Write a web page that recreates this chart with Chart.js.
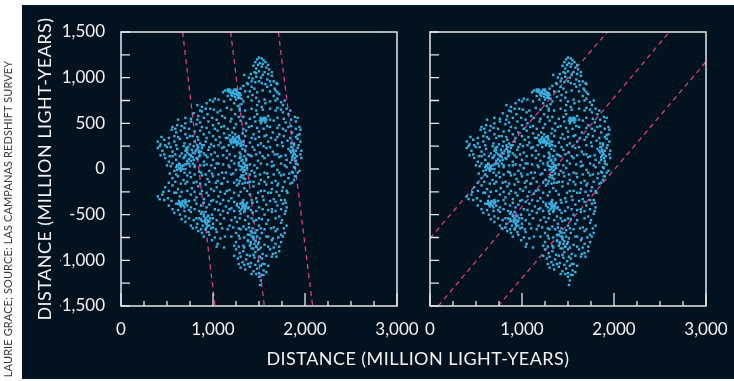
<!DOCTYPE html>
<html>
<head>
<meta charset="utf-8">
<script src="https://cdn.jsdelivr.net/npm/chart.js@4"></script>
<style>
  body { margin: 0; width: 734px; height: 381px; background: #fff; overflow: hidden; position: relative; font-family: Lato, sans-serif; }
  #fond { position: absolute; left: 22px; top: 5px; width: 712px; height: 374px; background: #03121f; }
  canvas { position: absolute; left: 0; top: 0; }
  .titre { position: absolute; color: #f2f2f2; font-size: 18px; line-height: 20px; letter-spacing: 0.45px; text-align: center; white-space: nowrap; }
  #titreX { left: 218px; top: 348px; width: 400px; }
  #titreY { left: -116px; top: 159px; width: 320px; transform: rotate(-90deg); }
  #credit { position: absolute; left: -162px; top: 213px; width: 340px; font-size: 11px; line-height: 12px; letter-spacing: 0.1px; color: #3a3a3a; text-align: center; transform: rotate(-90deg); white-space: nowrap; }
</style>
</head>
<body>
<div id="fond"></div>
<canvas id="gauche" width="734" height="381"></canvas>
<canvas id="droite" width="734" height="381"></canvas>
<div class="titre" id="titreX">DISTANCE (MILLION LIGHT-YEARS)</div>
<div class="titre" id="titreY">DISTANCE (MILLION LIGHT-YEARS)</div>
<div id="credit">LAURIE GRACE; SOURCE: LAS CAMPANAS REDSHIFT SURVEY</div>
<script>
// eixos
const xTicks = [0, 1000, 2000, 3000];
const yTicks = [-1500, -1000, -500, 0, 500, 1000, 1500];

// galáxias (x, y), por faixa
const galaxiasNorte = [
  [1500,1220],[1480,1200],[1530,1210],[1550,1190],[1460,1170],[1510,1160],[1570,1170],
  [1440,1130],[1470,1100],[1530,1120],[1580,1110],[1610,1090],[1640,1060],[1500,1070],[1560,1060],[1450,1060],
  [1340,1030],[1390,1000],[1430,990],[1470,1010],[1520,1000],[1590,980],[1640,1020],[1660,960],[1420,960],[1500,960],
  [1130,860],[1160,870],[1190,860],[1220,850],[1250,870],[1270,840],[1300,880],[1330,910],[1380,930],[1420,900],[1450,880],[1590,900],[1630,920],[1670,880],[1700,930],[1680,860],
  [1160,800],[1200,810],[1240,790],[1270,820],[1290,780],[1250,760],[1310,770],[1380,790],[1430,810],[1470,780],[1660,800],[1700,770],[1020,770],[967,755],
  [830,700],[880,680],[930,720],[970,660],[1230,720],[1270,690],[1310,710],[1290,660],[1480,700],[1530,680],[1570,720],[1700,670],[1760,700],[1800,660],
  [790,610],[840,580],[880,630],[940,600],[990,560],[1050,620],[1100,580],[1240,600],[1290,640],[1330,570],[1480,600],[1520,560],[1550,540],[1570,560],[1600,580],[1820,600],[1890,570],[1760,620],
  [560,460],[610,480],[660,470],[700,500],[760,520],[820,490],[860,510],[950,520],[1000,480],[1060,500],[1120,470],[1190,520],[1250,490],[1300,530],[1360,500],[1420,470],[1460,520],[1520,500],[1590,470],[1660,530],[1720,480],[1790,510],[1850,470],[1900,520],[1940,460]
];
const galaxiasCentro = [
  [550,430],[600,400],[650,420],[700,380],[750,360],[800,410],[860,420],[900,380],[960,400],[1050,420],[1120,390],[1180,370],[1210,400],[1240,380],[1280,360],[1320,390],[1360,420],[1440,380],[1500,410],[1580,370],[1650,400],[1720,380],[1790,420],[1860,400],[1920,370],[1950,430],[1940,380],
  [400,300],[430,270],[470,320],[520,280],[580,300],[640,330],[690,280],[750,270],[800,300],[840,320],[860,280],[880,260],[920,300],[980,270],[1030,320],[1080,290],[1140,340],[1190,300],[1210,330],[1230,290],[1250,310],[1270,280],[1290,320],[1310,300],[1330,260],[1400,290],[1460,330],[1520,280],[1600,300],[1680,320],[1750,290],[1810,310],[1880,280],[1920,330],[1950,300],
  [400,230],[450,200],[500,240],[560,190],[610,220],[660,170],[720,210],[780,180],[830,220],[850,200],[870,190],[880,230],[900,170],[950,210],[1020,180],[1100,230],[1150,200],[1220,240],[1290,180],[1320,220],[1350,200],[1380,160],[1450,210],[1510,180],[1580,230],[1650,190],[1700,160],[1820,220],[1850,180],[1870,200],[1890,160],[1920,230],[1960,200],
  [480,120],[520,80],[560,140],[600,100],[630,60],[680,120],[720,90],[760,140],[830,110],[900,80],[940,130],[1000,100],[1060,60],[1150,120],[1200,90],[1300,130],[1320,100],[1340,70],[1360,110],[1420,140],[1490,90],[1560,120],[1640,80],[1720,130],[1800,100],[1840,70],[1860,130],[1900,90],[1960,120],
  [540,30],[580,-20],[610,40],[630,10],[650,-10],[660,30],[700,0],[750,-40],[800,20],[850,-30],[900,40],[960,-20],[1020,10],[1100,-40],[1180,20],[1250,-10],[1300,30],[1320,0],[1330,-30],[1340,20],[1350,-10],[1370,40],[1420,-20],[1480,10],[1560,-40],[1640,30],[1700,-10],[1800,20],[1860,-30],[1890,10],[1940,-20],
  [560,-100],[620,-80],[680,-120],[760,-90],[820,-140],[880,-70],[940,-110],[1000,-80],[1050,-130],[1120,-100],[1200,-60],[1260,-120],[1300,-90],[1330,-70],[1350,-110],[1400,-140],[1460,-80],[1520,-120],[1600,-90],[1680,-130],[1740,-70],[1820,-100],[1880,-120],[1900,-80],
  [480,-200],[560,-180],[620,-220],[700,-160],[770,-210],[840,-190],[880,-240],[920,-170],[980,-220],[1040,-200],[1100,-160],[1180,-230],[1260,-180],[1340,-210],[1440,-190],[1520,-240],[1580,-170],[1640,-220],[1700,-180],[1760,-200],[1800,-240],[1840,-160]
];
const galaxiasSul = [
  [400,-300],[420,-330],[450,-280],[510,-320],[580,-260],[640,-300],[700,-340],[760,-280],[820,-310],[860,-270],[900,-330],[950,-290],[1000,-340],[1060,-300],[1130,-270],[1200,-320],[1280,-290],[1330,-340],[1400,-280],[1470,-320],[1540,-300],[1600,-260],[1660,-330],[1720,-290],[1780,-340],
  [520,-400],[600,-380],[640,-370],[660,-390],[690,-360],[720,-400],[760,-420],[820,-380],[870,-400],[900,-370],[930,-420],[960,-390],[1020,-440],[1080,-380],[1140,-410],[1200,-430],[1260,-400],[1300,-380],[1320,-420],[1340,-400],[1360,-390],[1380,-430],[1430,-370],[1500,-420],[1580,-390],[1640,-440],[1700,-400],[1760,-380],[1800,-420],
  [580,-480],[640,-500],[700,-520],[760,-470],[820,-540],[870,-490],[900,-520],[920,-470],[950,-510],[1000,-540],[1080,-500],[1160,-480],[1240,-530],[1300,-490],[1340,-460],[1380,-520],[1430,-480],[1500,-540],[1560,-500],[1640,-470],[1720,-520],[1780,-490],
  [700,-580],[760,-620],[830,-600],[880,-570],[910,-560],[930,-590],[940,-620],[960,-570],[1000,-640],[1080,-600],[1180,-620],[1260,-580],[1330,-630],[1390,-600],[1440,-570],[1500,-620],[1580,-600],[1660,-640],[1740,-590],[1800,-620],
  [840,-680],[880,-700],[920,-660],[960,-720],[1040,-690],[1130,-740],[1250,-700],[1300,-660],[1380,-720],[1420,-690],[1440,-740],[1480,-670],[1530,-700],[1600,-740],[1680,-680],[1740,-720],[1780,-700],
  [990,-780],[1050,-820],[1250,-800],[1290,-760],[1330,-840],[1380,-790],[1410,-820],[1440,-770],[1470,-850],[1500,-800],[1560,-830],[1640,-780],[1680,-820],[1740,-800],
  [1250,-880],[1290,-920],[1330,-900],[1370,-940],[1420,-870],[1460,-910],[1500,-880],[1540,-930],[1620,-880],[1680,-920],[1720,-900],
  [1270,-980],[1320,-1020],[1360,-990],[1410,-1030],[1450,-970],[1490,-1010],[1530,-980],[1560,-1040],[1640,-960],
  [1300,-1080],[1350,-1100],[1400,-1070],[1440,-1120],[1480,-1090],[1520,-1060],[1550,-1110],[1580,-1130],
  [1500,-1180],[1530,-1160],[1520,-1220],[1510,-1270],[1470,-1150]
];
// galáxias entre as faixas
const galaxiasExtra = [
  [1490,1140],[1540,1150],[1600,1140],
  [1410,1040],[1470,1050],[1540,1030],[1600,1040],
  [1370,940],[1460,950],[1530,940],[1570,930],[1620,960],[1690,940],
  [1110,840],[1180,870],[1350,850],[1400,850],[1480,840],[1540,860],[1620,850],[1700,840],[1720,820],
  [1000,740],[1060,760],[1120,740],[1190,760],[1330,740],[1420,750],[1500,740],[1560,760],[1620,740],[1680,750],[1740,730],[1780,750],
  [860,640],[920,660],[1010,650],[1080,640],[1150,670],[1200,650],[1350,640],[1420,660],[1470,640],[1540,650],[1620,660],[1680,640],[1740,650],[1840,640],
  [620,540],[700,560],[760,550],[830,540],[900,560],[1040,540],[1130,560],[1200,550],[1280,570],[1400,550],[1450,570],[1620,540],[1700,560],[1770,550],[1850,540],[1920,560],
  [590,440],[690,450],[740,440],[880,460],[930,450],[1020,440],[1090,460],[1160,440],[1230,450],[1330,440],[1390,460],[1480,450],[1550,440],[1620,460],[1700,450],[1760,440],[1820,460],[1900,440],
  [440,350],[520,340],[580,360],[620,350],[720,340],[780,360],[830,350],[930,340],[1000,360],[1070,350],[1160,340],[1260,350],[1350,360],[1420,340],[1500,350],[1560,360],[1630,340],[1700,350],[1770,360],[1840,340],[1900,350],
  [420,250],[480,260],[540,240],[600,260],[680,250],[730,240],[790,250],[900,260],[960,240],[1010,250],[1060,260],[1120,240],[1170,260],[1360,250],[1430,240],[1490,260],[1550,250],[1620,240],[1700,260],[1760,250],[1850,240],[1930,260],
  [430,150],[470,160],[530,140],[590,160],[640,140],[700,150],[850,140],[920,150],[980,160],[1050,140],[1110,150],[1180,160],[1240,140],[1400,150],[1470,160],[1540,140],[1600,150],[1670,160],[1740,140],[1790,150],[1910,140],[1950,160],
  [500,40],[560,60],[700,50],[740,60],[860,40],[930,50],[980,40],[1040,60],[1110,50],[1170,40],[1230,60],[1280,70],[1400,50],[1450,40],[1520,60],[1590,50],[1660,40],[1740,60],[1780,40],[1920,50],
  [530,-50],[600,-60],[690,-40],[720,-70],[800,-60],[870,-40],[920,-60],[990,-50],[1060,-60],[1140,-40],[1220,-50],[1400,-60],[1450,-40],[1510,-60],[1590,-50],[1660,-60],[1720,-40],[1770,-60],[1830,-50],[1920,-40],
  [520,-150],[590,-140],[650,-160],[720,-140],[790,-150],[860,-160],[960,-140],[1030,-150],[1090,-160],[1160,-140],[1230,-150],[1280,-160],[1380,-150],[1440,-140],[1500,-160],[1560,-140],[1640,-150],[1710,-160],[1780,-140],[1860,-150],
  [460,-250],[520,-240],[600,-260],[660,-250],[720,-240],[800,-250],[930,-260],[1010,-240],[1080,-250],[1150,-240],[1230,-260],[1300,-250],[1370,-240],[1490,-260],[1560,-240],[1630,-260],[1690,-250],[1750,-240],[1810,-260],
  [470,-340],[550,-350],[740,-350],[800,-340],[980,-350],[1040,-360],[1110,-340],[1170,-350],[1230,-360],[1420,-340],[1480,-360],[1550,-340],[1620,-350],[1680,-360],[1740,-340],[1790,-370],
  [560,-440],[620,-450],[690,-460],[740,-450],[800,-440],[850,-460],[1060,-450],[1110,-460],[1180,-440],[1230,-460],[1410,-450],[1470,-460],[1540,-440],[1600,-450],[1680,-460],[1740,-440],[1790,-460],
  [660,-550],[740,-540],[790,-560],[850,-540],[1040,-560],[1120,-540],[1200,-560],[1290,-540],[1350,-560],[1420,-540],[1470,-560],[1530,-550],[1600,-560],[1680,-540],[1750,-560],
  [780,-650],[820,-640],[870,-660],[1030,-660],[1100,-650],[1160,-660],[1220,-640],[1280,-650],[1360,-660],[1520,-650],[1560,-660],[1630,-650],[1700,-660],[1770,-650],
  [900,-740],[1020,-750],[1080,-760],[1200,-740],[1280,-730],[1340,-750],[1510,-760],[1580,-740],[1650,-760],[1710,-750],[1760,-740],
  [1040,-850],[1120,-860],[1230,-840],[1280,-850],[1340,-860],[1400,-840],[1520,-860],[1600,-850],[1660,-860],[1720,-850],
  [1230,-950],[1300,-960],[1400,-950],[1440,-940],[1510,-960],[1580,-950],[1650,-930],[1690,-960],
  [1280,-1040],[1340,-1050],[1380,-1040],[1460,-1050],[1540,-1040],[1600,-1060],
  [1420,-1150],[1500,-1140],[1550,-1160]
];
// aglomerados mais densos
const aglomerados = [
  [700,200],[720,180],[740,160],[760,150],[780,130],[800,170],[820,120],[740,110],[760,90],[780,60],[800,40],[720,60],[690,130],[710,230],[770,210],[810,200],[750,30],[790,100],[840,240],[850,180],[860,150],[830,260],
  [1290,120],[1310,90],[1330,60],[1350,40],[1320,20],[1300,-10],[1340,-20],[1360,-50],[1310,-70],[1330,-100],[1290,-130],[1350,-150],[1370,10],[1280,40],[1340,140],[1360,100],[1300,160],[1320,-160],
  [1190,320],[1210,300],[1230,310],[1250,290],[1270,300],[1290,280],[1310,270],[1240,330],[1260,260],[1220,350],[1280,340],[1300,250],[1200,280],[1330,300],
  [880,-470],[900,-500],[920,-540],[940,-560],[930,-600],[950,-580],[960,-620],[980,-650],[910,-580],[890,-620],[970,-540],[1000,-600],[920,-660],[950,-690],[870,-550],[990,-500],[940,-520],[930,-640],
  [1300,-380],[1320,-400],[1340,-420],[1330,-380],[1360,-410],[1350,-440],[1310,-440],[1280,-420],[1370,-370],[1320,-360],[1340,-470],[1290,-460],[1260,-380],[1390,-420],
  [1390,-640],[1410,-680],[1430,-700],[1420,-740],[1440,-760],[1460,-790],[1450,-820],[1470,-850],[1400,-720],[1380,-780],[1480,-740],[1430,-650],[1410,-800],[1460,-700],[1490,-820],[1440,-870],
  [1160,850],[1180,840],[1200,835],[1220,830],[1240,820],[1260,815],[1280,800],[1250,850],[1230,870],[1210,800],[1270,780],[1290,830],[1300,810],
  [1520,550],[1540,540],[1560,530],[1550,560],[1580,540],[1530,520],[1570,510],[1510,530],
  [620,-380],[640,-390],[660,-370],[680,-400],[700,-380],[650,-410],[670,-350],[690,-420],[710,-360],[630,-350],
  [600,20],[620,40],[640,10],[660,30],[640,50],[610,-10],[670,0],[650,-20],[680,40],
  [1850,280],[1860,240],[1870,210],[1880,180],[1870,150],[1890,120],[1860,100],[1900,200],[1880,260],[1840,200],[1900,60],[1880,20],[1870,-40],[1890,-80]
];

// linhas tracejadas: [x1, y1, x2, y2]
const cortesEsquerda = [
  [670, 1500, 1022, -1500],
  [1192, 1500, 1558, -1500],
  [1710, 1500, 2083, -1500]
];
const cortesDireita = [
  [0, -759, 1927, 1500],
  [90, -1500, 2601, 1500],
  [742, -1500, 3000, 1175]
];

const corPonto = '#3bb0e2';
const corLinha = '#e0388f';
const corTexto = '#f2f2f2';
const todas = galaxiasNorte.concat(galaxiasCentro, galaxiasSul, galaxiasExtra, aglomerados).map(p => ({ x: p[0], y: p[1] }));

// moldura e marcas internas
const moldura = {
  id: 'moldura',
  afterDatasetsDraw(chart) {
    const { ctx, chartArea: a, scales } = chart;
    ctx.save();
    ctx.strokeStyle = '#e8e8e8';
    ctx.lineWidth = 1.5;
    ctx.strokeRect(a.left, a.top, a.right - a.left, a.bottom - a.top);
    ctx.lineWidth = 1.3;
    ctx.beginPath();
    for (let v = -1500; v <= 1500; v += 250) {
      const py = scales.y.getPixelForValue(v);
      ctx.moveTo(a.left, py);
      ctx.lineTo(a.left + 9, py);
    }
    for (let v = 0; v <= 3000; v += 250) {
      const px = scales.x.getPixelForValue(v);
      const len = v % 1000 === 0 ? 13 : 5;
      ctx.moveTo(px, a.bottom);
      ctx.lineTo(px, a.bottom - len);
    }
    ctx.stroke();
    ctx.restore();
  }
};

function criarGrafico(id, cortes, comY, padding) {
  const datasets = [{
    type: 'scatter',
    data: todas,
    pointStyle: 'rect',
    pointRadius: 1.7,
    backgroundColor: corPonto,
    borderWidth: 0
  }];
  cortes.forEach(c => datasets.push({
    type: 'line',
    data: [{ x: c[0], y: c[1] }, { x: c[2], y: c[3] }],
    borderColor: corLinha,
    borderWidth: 1.3,
    borderDash: [5, 4],
    pointRadius: 0,
    fill: false
  }));
  return new Chart(document.getElementById(id), {
    type: 'scatter',
    data: { datasets },
    options: {
      responsive: false,
      animation: false,
      layout: { padding },
      plugins: { legend: { display: false }, tooltip: { enabled: false } },
      scales: {
        x: {
          type: 'linear', min: 0, max: 3000,
          afterBuildTicks: s => { s.ticks = xTicks.map(v => ({ value: v })); },
          afterFit: s => { s.height = 75; },
          grid: { display: false },
          border: { display: false },
          ticks: { color: corTexto, font: { family: 'Lato', size: 17 }, padding: 5, maxRotation: 0, autoSkip: false,
                   callback: v => v.toLocaleString('en-US') }
        },
        y: {
          type: 'linear', min: -1500, max: 1500, display: comY,
          afterBuildTicks: s => { s.ticks = yTicks.map(v => ({ value: v })); },
          afterFit: s => { s.width = comY ? 61 : 0; },
          grid: { display: false },
          border: { display: false },
          ticks: { color: corTexto, font: { family: 'Lato', size: 17 }, padding: 8,
                   callback: v => v.toLocaleString('en-US') }
        }
      }
    },
    plugins: [moldura]
  });
}

criarGrafico('gauche', cortesEsquerda, true, { left: 60, top: 32, right: 337, bottom: 0 });
criarGrafico('droite', cortesDireita, false, { left: 430, top: 32, right: 28, bottom: 0 });
</script>
</body>
</html>
